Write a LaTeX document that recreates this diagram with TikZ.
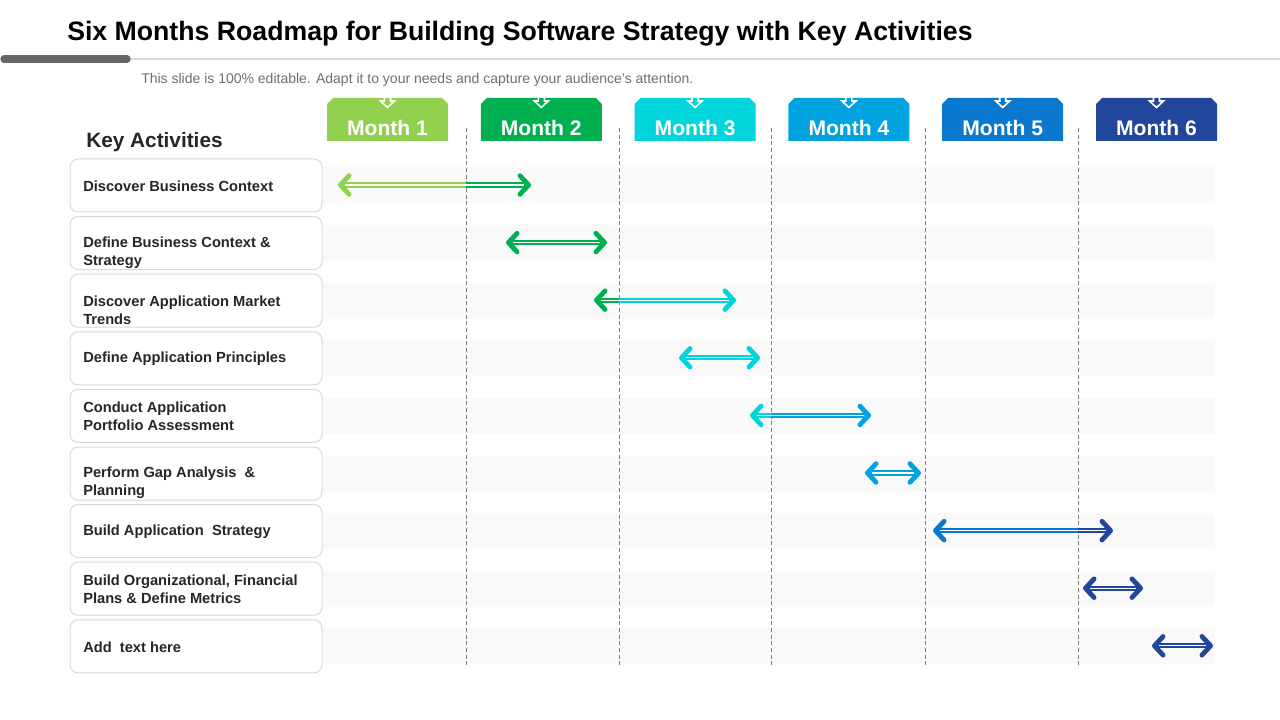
\documentclass[tikz,border=0pt]{standalone}
\usepackage{fontspec}
\setmainfont{Liberation Sans}
\usetikzlibrary{arrows.meta}
\definecolor{monthA}{HTML}{92D050}
\definecolor{monthB}{HTML}{00B050}
\definecolor{monthC}{HTML}{00D5DB}
\definecolor{monthD}{HTML}{00A3E0}
\definecolor{monthE}{HTML}{0A78CF}
\definecolor{monthF}{HTML}{22469B}
\definecolor{boxgray}{HTML}{D9D9D9}
\definecolor{bandgray}{HTML}{F9F9F9}
\definecolor{dashgray}{HTML}{808080}
\definecolor{textgray}{HTML}{262626}
\definecolor{subgray}{HTML}{6E6E6E}
\begin{document}
\begin{tikzpicture}[x=0.75pt,y=-0.75pt,
    >={Straight Barb[length=6.5pt,width=14pt,line width=3.6pt,round]},
    actbox/.style={draw=boxgray,line width=0.75pt,rounded corners=6pt,fill=white,
      minimum width=189pt,minimum height=39.75pt,inner sep=0pt},
    acttext/.style={anchor=west,align=left,inner sep=0pt,text=textgray,
      font=\bfseries\fontsize{11}{13.5}\selectfont},
    tabtext/.style={text=white,font=\bfseries\fontsize{15.8}{18}\selectfont},
    divider/.style={dashgray,line width=0.7pt,dash pattern=on 3pt off 2pt},
    span/.style={line width=3.9pt}]
  \useasboundingbox (0,0) rectangle (1280,720);

  % title and rule
  \node[anchor=west,inner sep=0pt,font=\bfseries\fontsize{20}{22}\selectfont] (title) at (67,33.5)
    {Six Months Roadmap for Building Software Strategy with Key Activities};
  \draw[boxgray,line width=1.5pt] (130,59) -- (1280,59);
  \draw[black!60,line width=5.5pt,line cap=round] (4,59) -- (127,59);
  \node[anchor=west,inner sep=0pt,text=subgray,font=\fontsize{10.5}{12}\selectfont] (sub) at (141,80)
    {This slide is 100\% editable. Adapt it to your needs and capture your audience's attention.};

  % rows: band, box, label
  \node[anchor=west,inner sep=0pt,text=textgray,font=\bfseries\fontsize{15.6}{18}\selectfont] (keyact) at (86,142) {Key Activities};
  \foreach \i/\txt/\dy in {1/{Discover Business Context}/0.5,
      2/{Define Business Context \&\\Strategy}/9.5,
      3/{Discover Application Market\\Trends}/9.5,
      4/{Define Application Principles}/0.5,
      5/{Conduct Application\\Portfolio Assessment}/0.5,
      6/{Perform Gap Analysis\ \ \&\\Planning}/9.5,
      7/{Build Application\ \ Strategy}/0.5,
      8/{Build Organizational, Financial\\Plans \& Define Metrics}/1,
      9/{Add\ \ text here}/0.5}{
    \pgfmathsetmacro\ry{185.5+57.6*(\i-1)}
    \fill[bandgray] (322,\ry-18) rectangle (1215,\ry+18);
    \node[actbox] (act\i) at (196,\ry) {};
    \node[acttext] (lbl\i) at (83,\ry+\dy) {\txt};
  }

  % month tabs
  \foreach \m/\col in {1/monthA,2/monthB,3/monthC,4/monthD,5/monthE,6/monthF}{
    \pgfmathsetmacro\tx{327+153.8*(\m-1)}
    \fill[\col] (\tx,141) -- (\tx,104) -- (\tx+6,98) -- (\tx+115,98) -- (\tx+121,104) -- (\tx+121,141) -- cycle;
    \draw[white,line width=1.2pt,line join=miter] (\tx+57.5,95) -- (\tx+63.5,95) -- (\tx+63.5,101)
      -- (\tx+67.5,101) -- (\tx+60.5,107.5) -- (\tx+53.5,101) -- (\tx+57.5,101) -- cycle;
    \node[tabtext] (m\m) at (\tx+60.5,128) {Month \m};
  }

  % month dividers
  \foreach \d in {466,619,771,925,1078}
    \draw[divider] (\d,128) -- (\d,665);

  % activity spans
  \foreach \r/\a/\b/\c/\ca/\cb in {1/338/466/531/monthA/monthB,
      2/506/556/607/monthB/monthB,
      3/594/619/736/monthB/monthC,
      4/679/720/760/monthC/monthC,
      5/750/771/871/monthC/monthD,
      6/865/893/921/monthD/monthD,
      7/933/1078/1113/monthE/monthF,
      8/1083/1113/1143/monthF/monthF,
      9/1152/1182/1213/monthF/monthF}{
    \pgfmathsetmacro\ry{185+57.6*(\r-1)}
    \coordinate (s\r) at (\a,\ry);
    \coordinate (k\r) at (\b,\ry);
    \coordinate (e\r) at (\c,\ry);
    \draw[span,\ca,<-] (s\r) -- (k\r);
    \draw[span,\cb,->] (k\r) -- (e\r);
    \draw[white,line width=1pt,shorten <=5pt,shorten >=5pt] (s\r) -- (e\r);
  }
\end{tikzpicture}
\end{document}
